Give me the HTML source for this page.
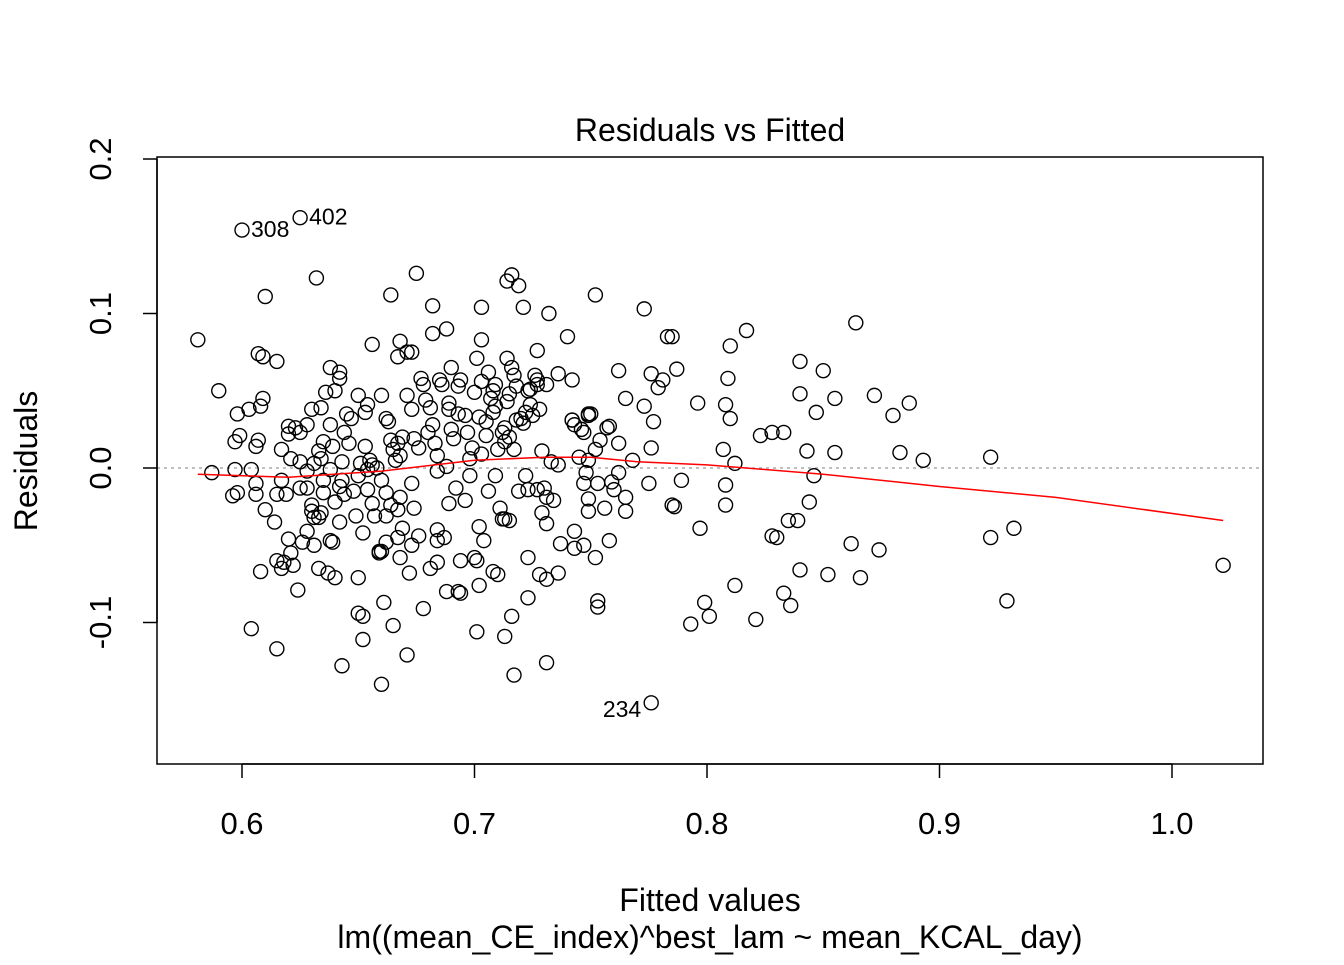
<!DOCTYPE html>
<html><head><meta charset="utf-8">
<style>
html,body{margin:0;padding:0;background:#fff;}
svg text{font-family:"Liberation Sans",Arial,sans-serif;fill:#000;}
</style></head>
<body>
<svg id="chart" width="1344" height="960" viewBox="0 0 1344 960" xmlns="http://www.w3.org/2000/svg">
<rect x="0" y="0" width="1344" height="960" fill="#fff"/>
<g id="points"></g>
<g id="axes"></g>
</svg>
<script>
const fitted = [0.581,0.587,0.590,0.600,0.625,0.610,0.632,0.675,0.664,0.716,0.714,0.719,0.703,0.682,0.721,0.732,0.752,0.773,0.817,0.810,0.864,0.783,0.785,0.688,0.682,0.668,0.656,0.703,0.740,0.607,0.609,0.615,0.638,0.642,0.671,0.667,0.673,0.690,0.714,0.727,0.736,0.742,0.762,0.776,0.787,0.781,0.779,0.840,0.850,0.809,0.840,0.855,0.872,0.887,0.880,0.847,0.808,0.810,0.796,0.773,0.765,0.777,0.749,0.742,0.823,0.828,0.833,0.776,0.807,0.812,0.843,0.855,0.883,0.893,0.922,0.768,0.846,0.808,0.789,0.785,0.786,0.808,0.844,0.797,0.828,0.830,0.835,0.839,0.862,0.874,0.922,0.932,1.022,0.840,0.852,0.866,0.812,0.799,0.801,0.793,0.821,0.833,0.836,0.929,0.776,0.753,0.753,0.731,0.717,0.713,0.701,0.716,0.723,0.731,0.736,0.728,0.708,0.710,0.702,0.693,0.694,0.688,0.678,0.671,0.660,0.643,0.652,0.652,0.650,0.661,0.665,0.604,0.615,0.624,0.608,0.618,0.617,0.615,0.621,0.622,0.633,0.640,0.637,0.650,0.659,0.659,0.672,0.668,0.681,0.684,0.694,0.700,0.701,0.723,0.737,0.743,0.747,0.752,0.758,0.743,0.731,0.729,0.713,0.712,0.702,0.704,0.687,0.684,0.684,0.676,0.673,0.669,0.667,0.662,0.660,0.652,0.649,0.639,0.638,0.631,0.628,0.626,0.620,0.614,0.610,0.596,0.598,0.606,0.615,0.619,0.625,0.628,0.630,0.630,0.631,0.633,0.634,0.640,0.642,0.644,0.648,0.654,0.656,0.657,0.662,0.662,0.664,0.668,0.667,0.674,0.689,0.692,0.696,0.706,0.711,0.715,0.719,0.723,0.727,0.730,0.731,0.734,0.747,0.749,0.749,0.756,0.759,0.760,0.765,0.765,0.775,0.753,0.606,0.617,0.635,0.643,0.660,0.673,0.684,0.698,0.709,0.722,0.736,0.748,0.762,0.597,0.604,0.597,0.599,0.607,0.598,0.603,0.608,0.609,0.617,0.621,0.620,0.620,0.623,0.625,0.628,0.630,0.634,0.636,0.640,0.642,0.635,0.633,0.634,0.631,0.638,0.639,0.645,0.647,0.644,0.643,0.646,0.650,0.653,0.654,0.655,0.653,0.658,0.660,0.662,0.663,0.664,0.665,0.667,0.668,0.666,0.669,0.671,0.673,0.674,0.676,0.677,0.678,0.679,0.681,0.680,0.682,0.683,0.684,0.685,0.686,0.689,0.689,0.690,0.691,0.693,0.693,0.694,0.696,0.697,0.698,0.699,0.700,0.701,0.702,0.703,0.705,0.705,0.706,0.707,0.708,0.708,0.709,0.709,0.710,0.712,0.713,0.713,0.714,0.715,0.715,0.716,0.717,0.717,0.718,0.718,0.720,0.721,0.722,0.723,0.724,0.724,0.725,0.726,0.727,0.727,0.728,0.729,0.731,0.733,0.742,0.743,0.746,0.747,0.749,0.750,0.752,0.754,0.757,0.758,0.762,0.745,0.749,0.688,0.703,0.606,0.625,0.628,0.638,0.651,0.654,0.656,0.642,0.650,0.635];
const residuals = [0.083,-0.003,0.050,0.154,0.162,0.111,0.123,0.126,0.112,0.125,0.121,0.118,0.104,0.105,0.104,0.100,0.112,0.103,0.089,0.079,0.094,0.085,0.085,0.090,0.087,0.082,0.080,0.083,0.085,0.074,0.072,0.069,0.065,0.062,0.075,0.072,0.075,0.065,0.071,0.076,0.061,0.057,0.063,0.061,0.064,0.057,0.052,0.069,0.063,0.058,0.048,0.045,0.047,0.042,0.034,0.036,0.041,0.032,0.042,0.040,0.045,0.030,0.035,0.031,0.021,0.023,0.023,0.013,0.012,0.003,0.011,0.010,0.010,0.005,0.007,0.005,-0.005,-0.011,-0.008,-0.024,-0.025,-0.024,-0.022,-0.039,-0.044,-0.045,-0.034,-0.034,-0.049,-0.053,-0.045,-0.039,-0.063,-0.066,-0.069,-0.071,-0.076,-0.087,-0.096,-0.101,-0.098,-0.081,-0.089,-0.086,-0.152,-0.086,-0.090,-0.126,-0.134,-0.109,-0.106,-0.096,-0.084,-0.072,-0.068,-0.069,-0.067,-0.069,-0.076,-0.080,-0.081,-0.080,-0.091,-0.121,-0.140,-0.128,-0.111,-0.096,-0.094,-0.087,-0.102,-0.104,-0.117,-0.079,-0.067,-0.061,-0.065,-0.060,-0.055,-0.063,-0.065,-0.071,-0.068,-0.071,-0.055,-0.054,-0.068,-0.058,-0.065,-0.061,-0.060,-0.058,-0.060,-0.058,-0.049,-0.052,-0.050,-0.058,-0.047,-0.041,-0.036,-0.029,-0.033,-0.033,-0.038,-0.047,-0.045,-0.047,-0.040,-0.044,-0.050,-0.039,-0.045,-0.048,-0.054,-0.042,-0.031,-0.048,-0.047,-0.050,-0.041,-0.048,-0.046,-0.035,-0.027,-0.018,-0.016,-0.017,-0.017,-0.017,-0.013,-0.013,-0.024,-0.028,-0.032,-0.032,-0.029,-0.022,-0.035,-0.017,-0.015,-0.014,-0.023,-0.031,-0.031,-0.016,-0.024,-0.019,-0.027,-0.026,-0.023,-0.013,-0.021,-0.015,-0.026,-0.034,-0.015,-0.014,-0.014,-0.013,-0.019,-0.021,-0.010,-0.020,-0.028,-0.026,-0.009,-0.014,-0.028,-0.019,-0.010,-0.010,-0.010,-0.008,-0.008,-0.008,-0.008,-0.010,-0.002,-0.005,-0.005,-0.005,0.002,-0.003,-0.003,-0.001,-0.001,0.017,0.021,0.018,0.035,0.038,0.040,0.045,0.012,0.006,0.022,0.027,0.026,0.023,0.028,0.038,0.039,0.049,0.050,0.058,0.017,0.011,0.006,0.003,0.028,0.014,0.035,0.032,0.023,0.004,0.016,0.047,0.036,0.041,0.005,0.014,0.000,0.047,0.032,0.030,0.018,0.012,0.016,0.008,0.005,0.020,0.047,0.038,0.019,0.013,0.058,0.054,0.044,0.039,0.023,0.028,0.016,0.008,0.057,0.054,0.042,0.038,0.025,0.019,0.035,0.053,0.057,0.034,0.023,0.006,0.013,0.049,0.071,0.033,0.056,0.021,0.030,0.062,0.045,0.050,0.036,0.054,0.040,0.012,0.023,0.017,0.026,0.043,0.048,0.020,0.065,0.060,0.012,0.053,0.031,0.032,0.029,0.036,0.050,0.041,0.051,0.034,0.060,0.054,0.057,0.038,0.011,0.054,0.004,0.031,0.028,0.025,0.023,0.034,0.035,0.012,0.018,0.026,0.027,0.016,0.007,0.005,0.001,0.009,0.014,0.004,-0.002,-0.001,0.003,-0.001,0.002,-0.012,-0.005,-0.016];
const smoothX = [0.581,0.62,0.66,0.70,0.73,0.75,0.77,0.80,0.85,0.90,0.95,1.022];
const smoothY = [-0.004,-0.006,-0.002,0.005,0.007,0.007,0.004,0.002,-0.004,-0.012,-0.019,-0.034];
const xTicks = [0.6,0.7,0.8,0.9,1.0];
const xTickLabels = ["0.6","0.7","0.8","0.9","1.0"];
const yTicks = [-0.1,0.0,0.1,0.2];
const yTickLabels = ["-0.1","0.0","0.1","0.2"];
const labeledIdx = [3,4,104];
const labelText = ["308","402","234"];

const NS = "http://www.w3.org/2000/svg";
const X = v => 242 + (v - 0.6) * 2325;
const Y = v => 468 - v * 1545;
const pts = document.getElementById('points');
const axes = document.getElementById('axes');
function mk(tag, attrs, parent){const e=document.createElementNS(NS,tag);for(const k in attrs)e.setAttribute(k,attrs[k]);parent.appendChild(e);return e;}

const zl = mk('line',{x1:157,x2:1263,y1:Y(0),y2:Y(0),stroke:'#aaa','stroke-width':1.5,'stroke-dasharray':'3,4'},pts);



for(let i=0;i<fitted.length;i++){
  const c = mk('circle',{cx:X(fitted[i]),cy:Y(residuals[i]),r:7,fill:'none',stroke:'#000','stroke-width':1.4},pts);
  
  
}
let d='';
for(let i=0;i<smoothX.length;i++){d+=(i?'L':'M')+X(smoothX[i]).toFixed(1)+','+Y(smoothY[i]).toFixed(1);}
const sm = mk('path',{d:d,fill:'none',stroke:'#ff0000','stroke-width':1.5},pts);



for(let k=0;k<labeledIdx.length;k++){
  const i=labeledIdx[k];
  const right = residuals[i]>0;
  const t = mk('text',{x: right? X(fitted[i])+9 : X(fitted[i])-10, y: Y(residuals[i])+ (right?7:14), 'font-size':23,'text-anchor': right?'start':'end'},pts);
  t.textContent = labelText[k];
  
  
}

const box = mk('rect',{x:157,y:157,width:1106,height:607,fill:'none',stroke:'#000','stroke-width':1.5},axes);



for(let i=0;i<xTicks.length;i++){
  const x=X(xTicks[i]);
  const tk = mk('line',{x1:x,x2:x,y1:764,y2:778,stroke:'#000','stroke-width':1.5},axes);
  
  
  const t = mk('text',{x:x,y:834,'font-size':31,'text-anchor':'middle'},axes);
  t.textContent=xTickLabels[i];
  
  
}
const xl = mk('line',{x1:X(0.6),x2:X(1.0),y1:764,y2:764,stroke:'#000','stroke-width':1.5},axes);


for(let i=0;i<yTicks.length;i++){
  const y=Y(yTicks[i]);
  const tk = mk('line',{x1:143,x2:157,y1:y,y2:y,stroke:'#000','stroke-width':1.5},axes);
  
  
  const t = mk('text',{x:111,y:y,'font-size':31,'text-anchor':'middle',transform:'rotate(-90 111 '+y+')'},axes);
  t.textContent=yTickLabels[i];
  
  
}
const yl = mk('line',{x1:157,x2:157,y1:Y(-0.1),y2:Y(0.2),stroke:'#000','stroke-width':1.5},axes);


</script>
<svg style="position:absolute;left:0;top:0" width="1344" height="960">
<text x="710" y="141" font-size="32" text-anchor="middle" font-family="Liberation Sans, sans-serif">Residuals vs Fitted</text>
<text x="710" y="911" font-size="32" text-anchor="middle" font-family="Liberation Sans, sans-serif">Fitted values</text>
<text x="710" y="948" font-size="32" text-anchor="middle" font-family="Liberation Sans, sans-serif">lm((mean_CE_index)^best_lam ~ mean_KCAL_day)</text>
<text x="37" y="461" font-size="32" text-anchor="middle" font-family="Liberation Sans, sans-serif" transform="rotate(-90 37 461)">Residuals</text>
</svg>
</body></html>
